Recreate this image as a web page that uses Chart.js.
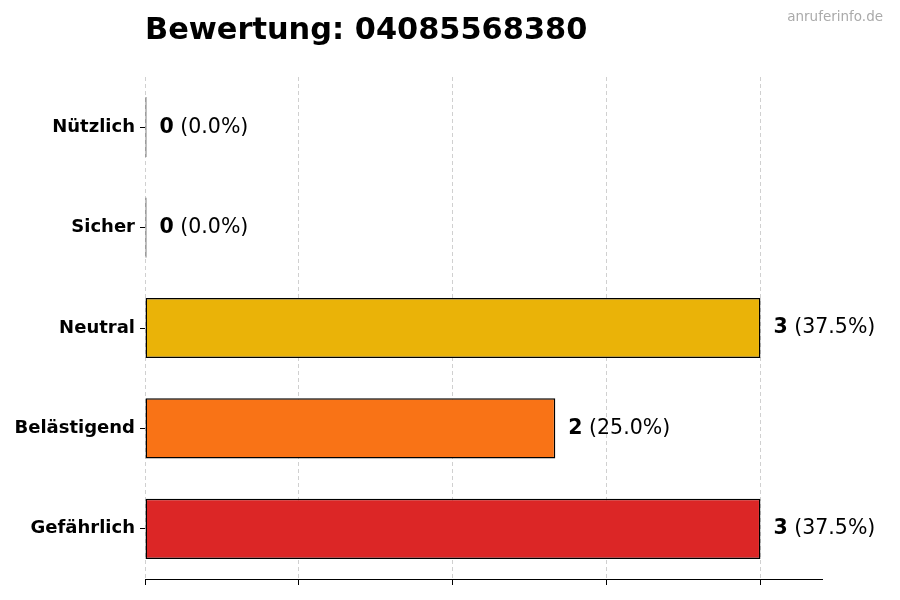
<!DOCTYPE html>
<html>
<head>
<meta charset="utf-8">
<script src="https://cdn.jsdelivr.net/npm/chart.js@4/dist/chart.umd.min.js"></script>
<style>
  body { margin: 0; background: #fff; }
  #chart { display: block; }
</style>
</head>
<body>
<canvas id="chart" width="900" height="600"></canvas>
<script>
// Daten
const categories = ['Nützlich', 'Sicher', 'Neutral', 'Belästigend', 'Gefährlich'];
const counts = [0, 0, 3, 2, 3];
const barColors = ['#22C55E', '#3B82F6', '#EAB308', '#F97316', '#DC2626'];
const titleText = 'Bewertung: 04085568380';
const watermarkText = 'anruferinfo.de';

const FONT = '"DejaVu Sans", sans-serif';
const total = counts.reduce((a, b) => a + b, 0);

// Titel + Wasserzeichen
const headerPlugin = {
    id: 'header',
    afterDraw(chart) {
        const ctx = chart.ctx;
        ctx.save();
        ctx.fillStyle = '#000';
        ctx.font = 'bold 30.4px ' + FONT;
        ctx.textAlign = 'left';
        ctx.textBaseline = 'middle';
        ctx.fillText(titleText, chart.chartArea.left, 31);
        ctx.fillStyle = '#aaaaaa';
        ctx.font = '13.5px ' + FONT;
        ctx.textAlign = 'right';
        ctx.fillText(watermarkText, 883, 17);
        ctx.restore();
    }
};

// Werte rechts neben den Balken
const valueLabels = {
    id: 'valueLabels',
    afterDatasetsDraw(chart) {
        const ctx = chart.ctx;
        const meta = chart.getDatasetMeta(0);
        ctx.save();
        ctx.fillStyle = '#000';
        ctx.textBaseline = 'middle';
        ctx.textAlign = 'left';
        meta.data.forEach((bar, i) => {
            const v = counts[i];
            const pct = total ? (v / total * 100).toFixed(1) : '0.0';
            let x = bar.x + 13;
            ctx.font = 'bold 20.5px ' + FONT;
            ctx.fillText(String(v), x, bar.y);
            x += ctx.measureText(String(v)).width;
            ctx.font = '20.5px ' + FONT;
            ctx.fillText(' (' + pct + '%)', x, bar.y);
        });
        ctx.restore();
    }
};

new Chart(document.getElementById('chart').getContext('2d'), {
    type: 'bar',
    data: {
        labels: categories,
        datasets: [{
            data: counts,
            backgroundColor: barColors,
            borderColor: '#000',
            borderWidth: 1.5,
            borderSkipped: false,
            minBarLength: 1.5,
            barPercentage: 0.6,
            categoryPercentage: 1.0
        }]
    },
    options: {
        indexAxis: 'y',
        responsive: false,
        animation: false,
        layout: { padding: { top: 77, right: 78, bottom: 0, left: 0 } },
        plugins: {
            legend: { display: false },
            title: { display: false },
            tooltip: { enabled: false }
        },
        scales: {
            x: {
                type: 'linear',
                min: 0,
                max: 3.3,
                afterFit(scale) { scale.height = 21; },
                ticks: { display: false, stepSize: 0.75, includeBounds: false },
                grid: {
                    color: '#d0d0d0',
                    lineWidth: 1,
                    tickColor: '#000',
                    tickLength: 6
                },
                border: { display: true, color: '#000', width: 1, dash: [4, 3] }
            },
            y: {
                afterFit(scale) { scale.width = 145; },
                ticks: {
                    color: '#000',
                    padding: 5,
                    font: { family: FONT, size: 18, weight: 'bold' }
                },
                grid: {
                    drawOnChartArea: false,
                    offset: false,
                    tickColor: '#000',
                    tickLength: 5
                },
                border: { display: false }
            }
        }
    },
    plugins: [headerPlugin, valueLabels]
});
</script>
</body>
</html>
